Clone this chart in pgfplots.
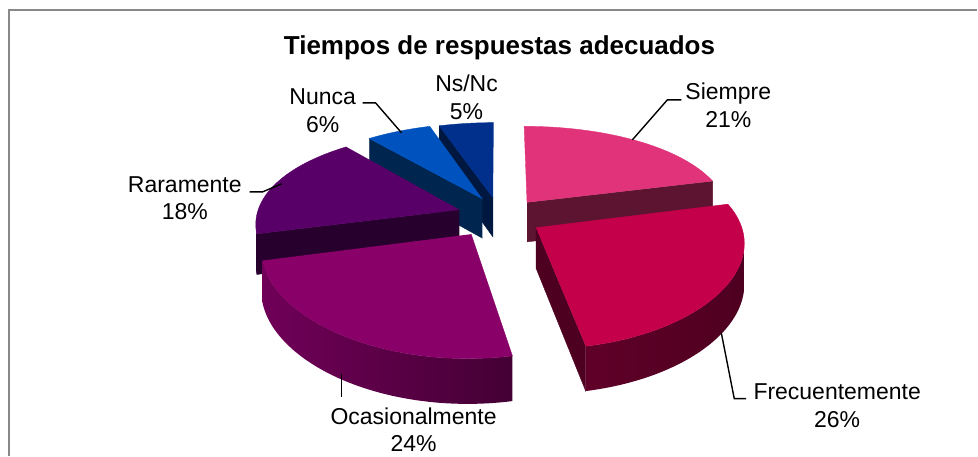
\documentclass[border=0pt]{standalone}
\usepackage{pgfplots}
\pgfplotsset{compat=1.18}
\usepackage{fontspec}
\setmainfont{Liberation Sans}
% Colours
\definecolor{cSiT}{RGB}{224,51,122}\definecolor{cSiW}{RGB}{92,20,48}
\definecolor{cFrT}{RGB}{196,0,74}\definecolor{cFrW}{RGB}{78,0,32}\definecolor{cFrW2}{RGB}{96,0,40}
\definecolor{cOcT}{RGB}{136,0,104}\definecolor{cOcWa}{RGB}{112,0,88}\definecolor{cOcWb}{RGB}{68,0,52}
\definecolor{cRaT}{RGB}{88,0,104}\definecolor{cRaW}{RGB}{40,0,45}
\definecolor{cNuT}{RGB}{0,82,190}\definecolor{cNuW}{RGB}{0,38,80}
\definecolor{cNsT}{RGB}{0,48,140}\definecolor{cNsW}{RGB}{0,24,64}
\definecolor{frame}{RGB}{137,137,137}
% Data (percent): Siempre 21, Frecuentemente 26, Ocasionalmente 24, Raramente 18, Nunca 6, Ns/Nc 5
\def\aA{0}
\def\aB{3.6*(21)}
\def\aC{3.6*(21+26)}
\def\aD{3.6*(21+26+24)}
\def\aE{3.6*(21+26+24+18)}
\def\aF{3.6*(21+26+24+18+6)}
\def\aG{3.6*(21+26+24+18+6+5)}
% extra per-slice pixel shift
\def\shx{0}\def\shy{0}
% top face of a slice: #1 start, #2 end, #3 colour
\newcommand\topface[3]{\addplot[fill=#3,draw=#3,line width=0.2pt,samples at={0,1,...,60},variable=\u]
 ({QX(#1,#2,(\u>0),#1+(#2-#1)*(\u-1)/59)},{QY(#1,#2,(\u>0),#1+(#2-#1)*(\u-1)/59,0)});}
% outer wall: #1,#2 slice, #3,#4 visible range, #5 left colour, #6 right colour
\newcommand\outerwall[6]{\addplot[left color=#5,right color=#6,draw=none,samples at={0,1,...,121},variable=\u]
 ({QX(#1,#2,1,ifthenelse(\u<60.5,#3+(#4-#3)*\u/60,#4-(#4-#3)*(\u-61)/60))},
  {QY(#1,#2,1,ifthenelse(\u<60.5,#3+(#4-#3)*\u/60,#4-(#4-#3)*(\u-61)/60),(\u>60.5))});}
% radial wall: #1,#2 slice, #3 angle, #4 colour
\newcommand\radwall[4]{\addplot[fill=#4,draw=#4,line width=0.2pt,samples at={0,1,2,3},variable=\u]
 ({QX(#1,#2,(\u>0.5)*(\u<2.5),#3)},{QY(#1,#2,(\u>0.5)*(\u<2.5),#3,(\u>1.5))});}
\begin{document}
\begin{tikzpicture}
\begin{axis}[
 scale only axis, width=489pt, height=228pt,
 xmin=0,xmax=978,ymin=0,ymax=456, y dir=reverse,
 axis lines=none, clip=false, no markers,
 declare function={
  SS(\vy)=1/(1+0.18*\vy);
  PX(\vx,\vy)=500+\shx+203*\vx/(1+0.13*\vy);
  PY(\vy,\vz)=215+\shy-95*\vy*SS(\vy)+(20+20*SS(\vy))*\vz;
  QX(\ua,\ub,\ur,\ut)=PX(0.21*sin((\ua+\ub)/2)+\ur*sin(\ut),0.21*cos((\ua+\ub)/2)+\ur*cos(\ut));
  QY(\ua,\ub,\ur,\ut,\uz)=PY(0.21*cos((\ua+\ub)/2)+\ur*cos(\ut),\uz);
 },
]
% full picture area (bounding box)
\path (axis cs:0,0) rectangle (axis cs:978,456);
% frame
\draw[frame,line width=1pt] (axis cs:9,456) -- (axis cs:9,10.5) -- (axis cs:978,10.5);
% Ns/Nc
\def\shx{0}\def\shy{2}
\radwall{\aF}{\aG}{\aF}{cNsW}
\topface{\aF}{\aG}{cNsT}
% Nunca
\def\shx{3}\def\shy{1}
\radwall{\aE}{\aF}{\aE}{cNuW}
\topface{\aE}{\aF}{cNuT}
% Siempre
\def\shx{2}\def\shy{3}
\radwall{\aA}{\aB}{\aB}{cSiW}
\topface{\aA}{\aB}{cSiT}
% Raramente
\def\shx{0}\def\shy{1}
\radwall{\aD}{\aE}{\aD}{cRaW}
\outerwall{\aD}{\aE}{\aD}{261}{cRaW}{cRaW}
\topface{\aD}{\aE}{cRaT}
% Frecuentemente
\def\shx{0}\def\shy{2}
\radwall{\aB}{\aC}{\aC}{cFrW}
\outerwall{\aB}{\aC}{99}{\aC}{cFrW2}{cFrW}
\topface{\aB}{\aC}{cFrT}
% Ocasionalmente
\def\shx{-5}\def\shy{2}
\outerwall{\aC}{\aD}{\aC}{\aD}{cOcWa}{cOcWb}
\topface{\aC}{\aD}{cOcT}
\def\shx{0}\def\shy{0}
% leader lines
\addplot[black,line width=0.7pt] coordinates {(633,140) (668,100) (682,100)};
\addplot[black,line width=0.7pt] coordinates {(722,333) (735,399) (747,399)};
\addplot[black,line width=0.7pt] coordinates {(342,374) (342,397)};
\addplot[black,line width=0.7pt] coordinates {(250,192) (263,192) (282,184)};
\addplot[black,line width=0.7pt] coordinates {(363,103) (376,103) (402,133)};
% labels
\node[anchor=base,font=\fontsize{13}{15}\selectfont\bfseries] at (axis cs:500,55) {Tiempos de respuestas adecuados};
\tikzset{lab/.style={anchor=base,font=\fontsize{11.5}{13.8}\selectfont,inner sep=0pt}}
\node[lab] at (axis cs:729,100) {Siempre};
\node[lab] at (axis cs:729,128) {21\%};
\node[lab] at (axis cs:838,400) {Frecuentemente};
\node[lab] at (axis cs:838,428) {26\%};
\node[lab] at (axis cs:414,425) {Ocasionalmente};
\node[lab] at (axis cs:414,452) {24\%};
\node[lab] at (axis cs:185,193) {Raramente};
\node[lab] at (axis cs:185,220) {18\%};
\node[lab] at (axis cs:323,105) {Nunca};
\node[lab] at (axis cs:323,133) {6\%};
\node[lab] at (axis cs:467,92) {Ns/Nc};
\node[lab] at (axis cs:467,120) {5\%};
\end{axis}
\end{tikzpicture}
\end{document}
